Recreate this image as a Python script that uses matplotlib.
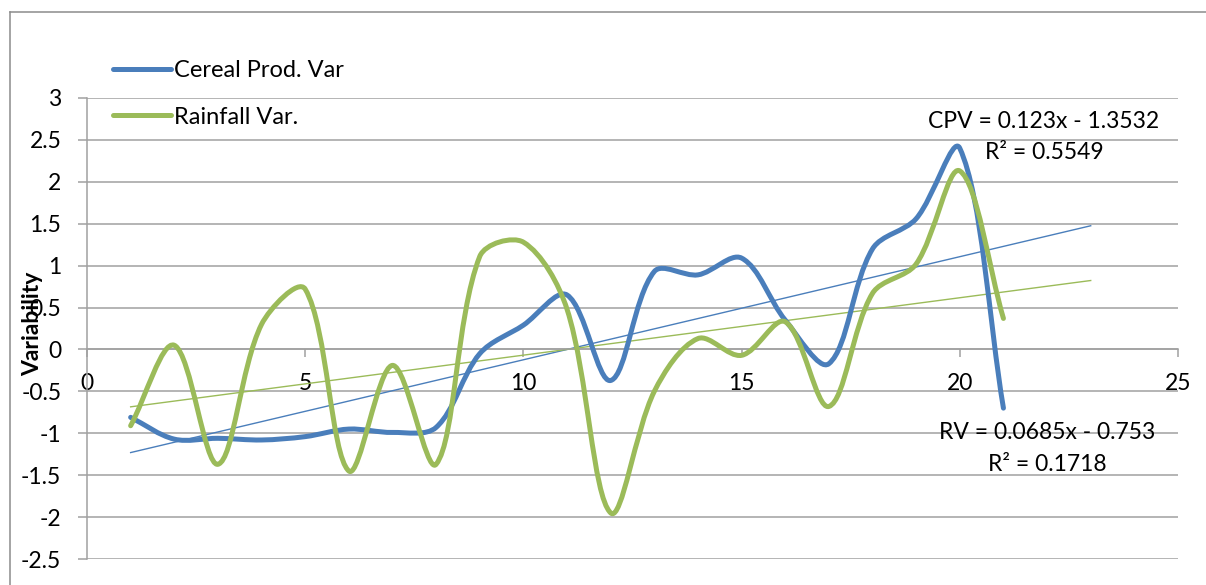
import numpy as np
import matplotlib.pyplot as plt
from matplotlib.path import Path
from matplotlib.patches import PathPatch
from matplotlib.lines import Line2D

plt.rcParams['font.family'] = ['Lato', 'DejaVu Sans']
plt.rcParams['axes.unicode_minus'] = False

years = list(range(1, 22))
cereal = [-0.81, -1.07, -1.06, -1.08, -1.04, -0.95, -0.99, -0.93, -0.05, 0.29, 0.65,
          -0.37, 0.93, 0.89, 1.09, 0.35, -0.17, 1.20, 1.56, 2.40, -0.70]
rain = [-0.91, 0.05, -1.37, 0.30, 0.72, -1.45, -0.19, -1.37, 1.11, 1.28, 0.48,
        -1.95, -0.50, 0.13, -0.07, 0.33, -0.68, 0.67, 1.02, 2.13, 0.37]

# trendline coefficients (slope, intercept) as printed on the chart
cpv_fit = (0.123, -1.3532)
rv_fit = (0.0685, -0.753)
trend_x = [1, 23]

blue = '#4A7EBB'
green = '#9BBB59'
grid_c = '#A0A0A0'
fs = 16.5

# approx pixels per data unit, used to weight the smoothing like excel does
sx, sy = 43.64, 83.8


def smooth_path(xs, ys):
    p = np.column_stack([xs, ys]).astype(float)
    ext = np.vstack([p[0], p, p[-1]])
    scale = np.array([sx, sy])
    n = len(p)
    c_in = np.zeros_like(p)
    c_out = np.zeros_like(p)
    for i in range(n):
        prev, cur, nxt = ext[i], ext[i + 1], ext[i + 2]
        d0 = np.hypot(*((cur - prev) * scale))
        d1 = np.hypot(*((nxt - cur) * scale))
        tot = d0 + d1 if d0 + d1 > 0 else 1.0
        t = nxt - prev
        c_in[i] = cur - t * d0 / tot / 3
        c_out[i] = cur + t * d1 / tot / 3
    verts = [p[0]]
    codes = [Path.MOVETO]
    for i in range(n - 1):
        verts += [c_out[i], c_in[i + 1], p[i + 1]]
        codes += [Path.CURVE4] * 3
    return Path(verts, codes)


fig = plt.figure(figsize=(12.06, 5.85), dpi=100)
ax = fig.add_axes([87 / 1206, 26 / 585, (1178 - 87) / 1206, (559 - 98) / 585])

ax.add_patch(PathPatch(smooth_path(years, cereal), fill=False, ec=blue, lw=3.6,
                       capstyle='round', joinstyle='round', zorder=3))
ax.add_patch(PathPatch(smooth_path(years, rain), fill=False, ec=green, lw=3.6,
                       capstyle='round', joinstyle='round', zorder=3))

tx = np.array(trend_x, dtype=float)
ax.plot(tx, cpv_fit[0] * tx + cpv_fit[1], color=blue, lw=1.0, zorder=2)
ax.plot(tx, rv_fit[0] * tx + rv_fit[1], color=green, lw=1.0, zorder=2)

ax.set_xlim(0, 25)
ax.set_ylim(-2.5, 3)
ax.set_xticks([0, 5, 10, 15, 20, 25])
ax.set_yticks(np.arange(-2.5, 3.01, 0.5))
ax.set_yticklabels(['-2.5', '-2', '-1.5', '-1', '-0.5', '0', '0.5', '1', '1.5', '2', '2.5', '3'])

for s in ['top', 'right']:
    ax.spines[s].set_visible(False)
ax.spines['bottom'].set_position(('data', 0))
ax.spines['bottom'].set_color(grid_c)
ax.spines['left'].set_color(grid_c)
ax.spines['bottom'].set_linewidth(1.1)
ax.spines['left'].set_linewidth(1.1)
ax.yaxis.grid(True, color=grid_c, lw=1.1)
ax.set_axisbelow(True)
ax.tick_params(axis='y', direction='out', length=6.5, width=1.1, color=grid_c,
               pad=12, labelsize=fs)
ax.tick_params(axis='x', direction='out', length=5.8, width=1.1, color=grid_c,
               pad=11, labelsize=fs)

# the label sits on top of the tick labels, as in the original
ax.set_ylabel('Variability', fontsize=fs, fontweight='bold')
ax.yaxis.set_label_coords(-0.040, 0.51)

ax.text(21.93, 2.715, 'CPV = 0.123x - 1.3532', ha='center', va='center', fontsize=fs)
ax.text(21.93, 2.345, 'R² = 0.5549', ha='center', va='center', fontsize=fs)
ax.text(22.0, -0.996, 'RV = 0.0685x - 0.753', ha='center', va='center', fontsize=fs)
ax.text(22.0, -1.378, 'R² = 0.1718', ha='center', va='center', fontsize=fs)

handles = [Line2D([], [], color=blue, lw=3.6, solid_capstyle='round'),
           Line2D([], [], color=green, lw=3.6, solid_capstyle='round')]
fig.legend(handles, ['Cereal Prod. Var', 'Rainfall Var.'], loc='upper left',
           bbox_to_anchor=(113 / 1206, 1 - 60 / 585), frameon=False, fontsize=fs + 0.5,
           handlelength=2.45, handletextpad=0.15, labelspacing=1.08, borderpad=0,
           borderaxespad=0)

# outer chart frame
fig.add_artist(Line2D([10 / 1206, 1], [1 - 12 / 585, 1 - 12 / 585],
                      transform=fig.transFigure, color='#8C8C8C', lw=1.1))
fig.add_artist(Line2D([10 / 1206, 10 / 1206], [0, 1 - 12 / 585],
                      transform=fig.transFigure, color='#8C8C8C', lw=1.1))

fig.savefig('out.png', dpi=100)
